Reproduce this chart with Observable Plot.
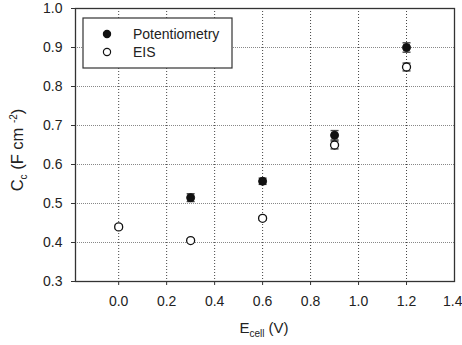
<!DOCTYPE html>
<html>
<head>
<meta charset="utf-8">
<script src="https://cdn.jsdelivr.net/npm/d3@7"></script>
<script src="https://cdn.jsdelivr.net/npm/@observablehq/plot@0.6"></script>
<style>
  html, body { margin: 0; padding: 0; background: #fff; }
  svg { font-family: "Liberation Sans", Arial, Helvetica, sans-serif; }
</style>
</head>
<body>
<div id="chart"></div>
<script>
// Data
const potE   = [0.3, 0.6, 0.9, 1.2];
const potC   = [0.515, 0.557, 0.675, 0.900];
const potErr = [0.010, 0.008, 0.012, 0.012];

const eisE   = [0.0, 0.3, 0.6, 0.9, 1.2];
const eisC   = [0.440, 0.405, 0.462, 0.650, 0.850];
const eisErr = [0.005, 0.004, 0.005, 0.010, 0.010];

const xTicks = [0.0, 0.2, 0.4, 0.6, 0.8, 1.0, 1.2, 1.4];
const yTicks = [0.3, 0.4, 0.5, 0.6, 0.7, 0.8, 0.9, 1.0];
const xDomain = [-0.18, 1.4];
const yDomain = [0.3, 1.0];

const seriesNames = ["Potentiometry", "EIS"];

const pot = potE.map((e, i) => ({e, c: potC[i], lo: potC[i] - potErr[i], hi: potC[i] + potErr[i]}));
const eis = eisE.map((e, i) => ({e, c: eisC[i], lo: eisC[i] - eisErr[i], hi: eisC[i] + eisErr[i]}));

const capSymbol = { draw(ctx, size) { const r = 4; ctx.moveTo(-r, 0); ctx.lineTo(r, 0); } };

function errorMarks(data) {
  return [
    Plot.ruleX(data, {x: "e", y1: "lo", y2: "hi", stroke: "#444", strokeWidth: 1.2}),
    Plot.dot(data, {x: "e", y: "hi", symbol: capSymbol, stroke: "#444", strokeWidth: 1.4, r: 4}),
    Plot.dot(data, {x: "e", y: "lo", symbol: capSymbol, stroke: "#444", strokeWidth: 1.4, r: 4})
  ];
}

const gx = xTicks.filter(d => d > xDomain[0] && d < xDomain[1]);
const gy = yTicks.filter(d => d > yDomain[0] && d < yDomain[1]);
const xTicksInner = xTicks.filter(d => d < xDomain[1]);
const xTicksEdge = xTicks.filter(d => d >= xDomain[1]);

const chart = Plot.plot({
  width: 462,
  height: 345,
  marginLeft: 75,
  marginRight: 8,
  marginTop: 8,
  marginBottom: 64,
  style: {fontFamily: '"Liberation Sans", Arial, Helvetica, sans-serif', fontSize: "14px", color: "#222", background: "#fff"},
  x: {domain: xDomain, ticks: xTicks, tickFormat: d3.format(".1f")},
  y: {domain: yDomain, ticks: yTicks, tickFormat: d3.format(".1f")},
  marks: [
    Plot.ruleX(gx, {stroke: "#444", strokeOpacity: 1, strokeDasharray: "1,2", strokeWidth: 1}),
    Plot.ruleY(gy, {stroke: "#888", strokeOpacity: 1, strokeDasharray: "1,1", strokeWidth: 1}),
    Plot.frame({stroke: "#333", strokeWidth: 1.3}),
    Plot.axisX(xTicksInner, {tickSize: 4, tickPadding: 11, label: null, stroke: "#333", fontSize: 14}),
    Plot.axisX(xTicksEdge, {tickSize: 4, tickPadding: 11, label: null, stroke: "#333", fontSize: 14, textAnchor: "end", dx: 8}),
    Plot.axisY(yTicks, {tickSize: 4, tickPadding: 9, label: null, stroke: "#333", fontSize: 14}),
    ...errorMarks(pot),
    ...errorMarks(eis),
    Plot.dot(pot, {x: "e", y: "c", r: 4, fill: "#111", stroke: "#111", strokeWidth: 1}),
    Plot.dot(eis, {x: "e", y: "c", r: 4, fill: "#fff", stroke: "#111", strokeWidth: 1.3})
  ]
});

document.getElementById("chart").appendChild(chart);

const svg = d3.select(chart);
const font = '"Liberation Sans", Arial, Helvetica, sans-serif';

// Legend
const lg = svg.append("g").attr("font-family", font).attr("font-size", 14).attr("fill", "#222").attr("text-anchor", "start");
lg.append("rect").attr("x", 83).attr("y", 18).attr("width", 149).attr("height", 50)
  .attr("fill", "#fff").attr("stroke", "#333").attr("stroke-width", 1.2);
const legendRows = [
  {name: seriesNames[0], fill: "#111", y: 34},
  {name: seriesNames[1], fill: "#fff", y: 52}
];
legendRows.forEach(r => {
  lg.append("circle").attr("cx", 107).attr("cy", r.y).attr("r", 3.6)
    .attr("fill", r.fill).attr("stroke", "#111").attr("stroke-width", 1.2);
  lg.append("text").attr("x", 133).attr("y", r.y).attr("dy", "0.35em").attr("text-anchor", "start").text(r.name);
});

// X axis label with subscript
const xl = svg.append("text").attr("font-family", font).attr("font-size", 15).attr("fill", "#222")
  .attr("x", 264).attr("y", 333).attr("text-anchor", "middle");
xl.append("tspan").text("E");
xl.append("tspan").attr("font-size", 10).attr("dy", 4).text("cell");
xl.append("tspan").attr("dy", -4).text(" (V)");

// Y axis label with subscript and superscript
const yl = svg.append("text").attr("font-family", font).attr("font-size", 16.5).attr("fill", "#222")
  .attr("transform", "translate(23,150) rotate(-90)").attr("text-anchor", "middle");
yl.append("tspan").text("C");
yl.append("tspan").attr("font-size", 10).attr("dy", 4).text("c");
yl.append("tspan").attr("dy", -4).text(" (F cm ");
yl.append("tspan").attr("font-size", 10).attr("dy", -6).text("-2");
yl.append("tspan").attr("dy", 6).text(")");
</script>
</body>
</html>
